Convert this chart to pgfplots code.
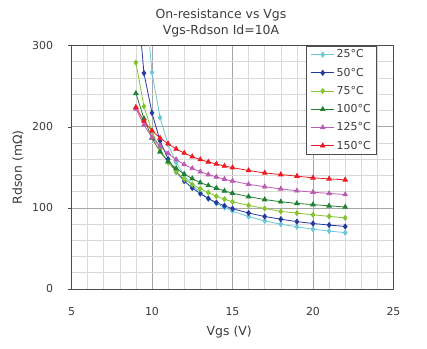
\documentclass[border=0pt]{standalone}
\usepackage{fontspec}
\setmainfont{DejaVu Sans}
\usepackage{pgfplots}
\pgfplotsset{compat=1.18}
\usepackage{pgfplotstable}
\definecolor{cA}{RGB}{108,200,214}
\definecolor{cB}{RGB}{38,58,158}
\definecolor{cC}{RGB}{132,196,48}
\definecolor{cD}{RGB}{34,128,52}
\definecolor{cE}{RGB}{186,92,178}
\definecolor{cF}{RGB}{236,28,36}
\definecolor{txt}{RGB}{60,60,60}
\pgfplotstableread{
v    t25   t50   t75   t100  t125  t150
9    700   380   279   241   222   224
9.5  378   266   225   210   202   207
10   267   217   194   186   187   195
10.5 211   182.5 172   169   176   186
11   178   160   156   157   167   179
11.5 156   144.5 144.5 148.5 159.5 172.5
12   140   133   135.4 141.6 153.4 167.5
12.5 128   124.5 128.8 136   148.6 163
13   118.8 117.5 123.5 131   144.5 159.5
13.5 111.4 111.5 118.8 127.5 141   156.5
14   105.4 106.5 114.2 124.3 138   154
14.5 100.3 102.5 110.7 120.8 135.3 151.5
15   96    99    107.4 118   133   149.5
16   89.2  93.6  103   113.8 129   146
17   83.9  89.3  99.2  110.2 126   143
18   79.8  86    95.6  107.5 123.4 141
19   76.5  83    93.5  105.4 121   139
20   73.7  80.7  91.4  104   119.3 137
21   71.4  78.8  89.5  102.5 117.7 135.7
22   69.4  77    87.6  101   116.4 134.5
}\data
\begin{document}
\begin{tikzpicture}
\path[use as bounding box] (0,0) rectangle (427bp,349bp);
\node[text=txt, font=\fontsize{12.5}{15}\selectfont] at (221bp,333.5bp) {On-resistance vs Vgs};
\node[text=txt, font=\fontsize{12.5}{15}\selectfont] at (221bp,318bp) {Vgs-Rdson Id=10A};
\begin{axis}[
  at={(71.5bp,60bp)}, anchor=south west,
  width=322bp, height=243.5bp, scale only axis,
  xmin=5, xmax=25, ymin=0, ymax=300,
  xtick={5,10,15,20,25}, ytick={0,100,200,300},
  minor x tick num=4, minor y tick num=4,
  grid=both,
  major grid style={gray!70, line width=0.6bp},
  minor grid style={gray!30, line width=0.6bp},
  axis line style={black!70, line width=0.7bp},
  tick align=outside, major tick length=3bp, minor tick length=0pt,
  xtick style={draw=none},
  ytick style={black!70},
  ytick pos=left,
  tick label style={text=txt, font=\fontsize{11}{13}\selectfont},
  /pgf/number format/assume math mode=true,
  xticklabel style={yshift=-12bp},
  yticklabel style={xshift=-12bp},
  xlabel={Vgs (V)}, ylabel={Rdson (mΩ)},
  label style={text=txt, font=\fontsize{12.5}{15}\selectfont},
  xlabel style={at={(axis description cs:0.49,0)}, anchor=center, yshift=-43bp},
  ylabel style={at={(axis description cs:0,0.5)}, anchor=center, rotate=0, yshift=53.5bp},
  legend style={at={(0.9488,1)}, anchor=north east, draw=black!70, fill=white,
    font=\fontsize{11}{13}\selectfont, text=txt, inner xsep=4bp, inner ysep=2bp,
    row sep=4.6bp, line width=0.7bp},
  legend cell align=left,
  legend image code/.code={\draw[mark repeat=2,mark phase=2] plot coordinates {(0bp,0bp) (11.5bp,0bp) (23bp,0bp)};},
  every axis plot/.append style={line width=0.8bp},
]
\addplot[cA, mark=diamond*, mark size=2.5bp] table[x=v,y=t25]{\data};
\addlegendentry{25°C}
\addplot[cB, mark=diamond*, mark size=2.5bp] table[x=v,y=t50]{\data};
\addlegendentry{50°C}
\addplot[cC, mark=diamond*, mark size=2.5bp] table[x=v,y=t75]{\data};
\addlegendentry{75°C}
\addplot[cD, mark=triangle*, mark size=2.6bp] table[x=v,y=t100]{\data};
\addlegendentry{100°C}
\addplot[cE, mark=triangle*, mark size=2.6bp] table[x=v,y=t125]{\data};
\addlegendentry{125°C}
\addplot[cF, mark=triangle*, mark size=2.6bp] table[x=v,y=t150]{\data};
\addlegendentry{150°C}
\end{axis}
\end{tikzpicture}
\end{document}
